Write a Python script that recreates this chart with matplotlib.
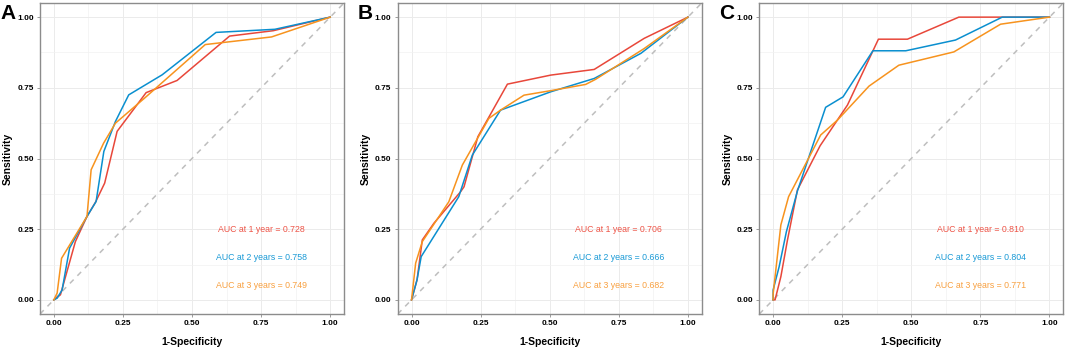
import numpy as np
import matplotlib
matplotlib.use("Agg")
import matplotlib.pyplot as plt
from matplotlib.ticker import MultipleLocator

plt.rcParams['font.family'] = ['Liberation Sans', 'DejaVu Sans']

# ROC curves, panel A/B/C, 1-3 years (x = 1-specificity, y = sensitivity)
a_fpr_1 = [0, 0.024, 0.078, 0.12, 0.15, 0.184, 0.229, 0.334, 0.446, 0.636, 0.794, 1.0]
a_tpr_1 = [0, 0.018, 0.206, 0.295, 0.344, 0.413, 0.596, 0.733, 0.776, 0.933, 0.952, 1.0]
a_fpr_2 = [0, 0.012, 0.03, 0.057, 0.12, 0.153, 0.181, 0.223, 0.271, 0.392, 0.587, 0.80, 1.0]
a_tpr_2 = [0, 0.006, 0.035, 0.183, 0.295, 0.348, 0.525, 0.631, 0.725, 0.796, 0.946, 0.957, 1.0]
a_fpr_3 = [0, 0.012, 0.028, 0.12, 0.135, 0.18, 0.223, 0.33, 0.548, 0.788, 1.0]
a_tpr_3 = [0, 0.024, 0.147, 0.295, 0.46, 0.554, 0.625, 0.715, 0.903, 0.93, 1.0]

b_fpr_1 = [0, 0.02, 0.039, 0.081, 0.178, 0.19, 0.24, 0.347, 0.504, 0.661, 0.842, 1.0]
b_tpr_1 = [0, 0.071, 0.212, 0.271, 0.383, 0.40, 0.577, 0.763, 0.795, 0.815, 0.925, 1.0]
b_fpr_2 = [0, 0.02, 0.035, 0.171, 0.22, 0.322, 0.504, 0.661, 0.83, 1.0]
b_tpr_2 = [0, 0.071, 0.153, 0.365, 0.512, 0.671, 0.736, 0.783, 0.872, 1.0]
b_fpr_3 = [0, 0.015, 0.039, 0.135, 0.184, 0.28, 0.322, 0.407, 0.504, 0.63, 0.666, 0.842, 1.0]
b_tpr_3 = [0, 0.13, 0.206, 0.347, 0.477, 0.642, 0.671, 0.724, 0.74, 0.762, 0.78, 0.889, 1.0]

c_fpr_1 = [0, 0.007, 0.028, 0.052, 0.088, 0.17, 0.269, 0.381, 0.486, 0.672, 1.0]
c_tpr_1 = [0, 0, 0.082, 0.212, 0.389, 0.545, 0.689, 0.922, 0.922, 1.0, 1.0]
c_fpr_2 = [0, 0, 0.022, 0.048, 0.088, 0.19, 0.253, 0.361, 0.48, 0.66, 0.829, 1.0]
c_tpr_2 = [0, 0.035, 0.118, 0.241, 0.385, 0.681, 0.718, 0.881, 0.881, 0.919, 1.0, 1.0]
c_fpr_3 = [0, 0, 0.028, 0.056, 0.172, 0.233, 0.347, 0.455, 0.654, 0.823, 1.0]
c_tpr_3 = [0, 0.02, 0.265, 0.365, 0.583, 0.636, 0.756, 0.83, 0.877, 0.975, 1.0]

panel_letters = ["A", "B", "C"]
auc_1 = ["0.728", "0.706", "0.810"]
auc_2 = ["0.758", "0.666", "0.804"]
auc_3 = ["0.749", "0.682", "0.771"]

colors = ["#E8473A", "#0A8FCF", "#F7931E"]
text_colors = ["#EE5548", "#1A9AD6", "#F8A040"]

curves = [
    [(a_fpr_1, a_tpr_1), (a_fpr_2, a_tpr_2), (a_fpr_3, a_tpr_3)],
    [(b_fpr_1, b_tpr_1), (b_fpr_2, b_tpr_2), (b_fpr_3, b_tpr_3)],
    [(c_fpr_1, c_tpr_1), (c_fpr_2, c_tpr_2), (c_fpr_3, c_tpr_3)],
]

fig = plt.figure(figsize=(10.65, 3.48), dpi=100)
lefts = [40, 397.7, 759.3]
W, H = 1065.0, 348.0

for i, left in enumerate(lefts):
    ax = fig.add_axes([left / W, 34 / H, 304 / W, 311 / H])
    ax.set_xlim(-0.05, 1.05)
    ax.set_ylim(-0.05, 1.05)
    ax.xaxis.set_major_locator(MultipleLocator(0.25))
    ax.yaxis.set_major_locator(MultipleLocator(0.25))
    ax.xaxis.set_minor_locator(MultipleLocator(0.125))
    ax.yaxis.set_minor_locator(MultipleLocator(0.125))
    ax.grid(which="major", color="#EBEBEB", lw=0.7)
    ax.grid(which="minor", color="#F2F2F2", lw=0.5)
    ax.set_axisbelow(True)
    for s in ax.spines.values():
        s.set_color("#8C8C8C")
        s.set_linewidth(1.0)
    ax.tick_params(which="major", length=2.5, width=0.6, color="#8C8C8C", pad=2,
                   labelsize=6.0)
    ax.tick_params(which="minor", length=0)
    for lab in ax.get_xticklabels() + ax.get_yticklabels():
        lab.set_fontweight("bold")
    ax.xaxis.set_major_formatter(matplotlib.ticker.FormatStrFormatter("%.2f"))
    ax.yaxis.set_major_formatter(matplotlib.ticker.FormatStrFormatter("%.2f"))

    ax.axline((0, 0), (1, 1), color="#BEBEBE", lw=1.1, ls=(0, (3.5, 3.5)), zorder=1)

    for (fx, ty), c in zip(curves[i], colors):
        ax.plot(fx, ty, color=c, lw=1.1, zorder=3)

    labels = ["AUC at 1 year = " + auc_1[i],
              "AUC at 2 years = " + auc_2[i],
              "AUC at 3 years = " + auc_3[i]]
    for lab, yy, tc in zip(labels, [0.25, 0.15, 0.05], text_colors):
        ax.text(0.75, yy, lab, color=tc, fontsize=6.3, ha="center", va="center")

    ax.set_xlabel("1-Specificity", fontsize=7.5, fontweight="bold", labelpad=7)
    ax.set_ylabel("Sensitivity", fontsize=7.5, fontweight="bold", labelpad=3)

    fig.text((left - 40) / W, 1 - 4 / H, panel_letters[i], fontsize=15,
             fontweight="bold", ha="left", va="top")

fig.savefig("out.png", dpi=100)
